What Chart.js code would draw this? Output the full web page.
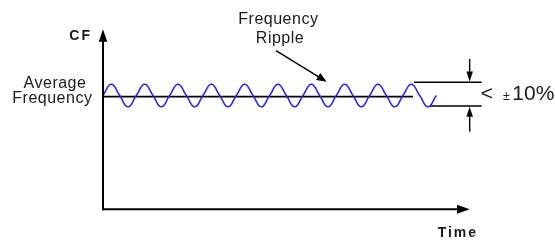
<!DOCTYPE html>
<html><head><meta charset="utf-8">
<script src="https://cdn.jsdelivr.net/npm/chart.js@4/dist/chart.umd.min.js"></script>
<style>html,body{margin:0;padding:0;background:#fff}#wrap{width:555px;height:244px;position:relative}</style>
</head><body><div id="wrap"><canvas id="c"></canvas></div>
<script>
// Time measured in ripple cycles from the vertical axis; frequency in % of the average (CF = 100)
const rippleTime = [0,0.25,0.5,0.75,1,1.25,1.5,1.75,2,2.25,2.5,2.75,3,3.25,3.5,3.75,4,4.25,4.5,4.75,5,
                    5.25,5.5,5.75,6,6.25,6.5,6.75,7,7.25,7.5,7.75,8,8.25,8.5,8.75,9,9.25,9.5,9.75,10];
const rippleFreq = [101,111,101,91,101,111,101,91,101,111,101,91,101,111,101,91,101,111,101,91,101,
                    111,101,91,101,111,101,91,101,111,101,91,101,111,101,91,101,111,101,91,101];
const averageTime = [0, 9.3];
const averageFreq = [100, 100];
const bandTopTime = [9.33, 11.36];     const bandTopFreq = [112.8, 112.8];
const bandBottomTime = [9.81, 11.36];  const bandBottomFreq = [91.7, 91.7];
const axisTimeEnd = 11;   // tip of time axis arrow
const axisFreqEnd = 160;  // tip of CF axis arrow
const limitTime = 11;                 // position of the ±10% marker arrows
const limitDownFrom = 133.5, limitUpFrom = 68.9;
const pointerFrom = [5.19, 140.9], pointerTo = [6.71, 113.3];

const pts = (xs, ys) => xs.map((x, i) => ({x, y: ys[i]}));

const FONT = '"Liberation Sans", Arial, sans-serif';
const labels = [
  {text:'CF', t:-1.011, f:149.9, font:'bold 14px '+FONT, align:'left', ls:'2px'},
  {text:'Time', t:10.04, f:-24.8, font:'bold 14px '+FONT, align:'left', ls:'2px'},
  {text:'Average', t:-1.44, f:107.5, font:'16px '+FONT, align:'center', ls:'0.5px'},
  {text:'Frequency', t:-1.52, f:94.1, font:'16px '+FONT, align:'center', ls:'0.5px'},
  {text:'Frequency', t:5.26, f:164.3, font:'16px '+FONT, align:'center', ls:'0.5px'},
  {text:'Ripple', t:5.31, f:147.4, font:'16px '+FONT, align:'center', ls:'0.5px'},
  {text:'<', t:11.33, f:97.0, font:'21px '+FONT, align:'left', ls:'0px'},
  {text:'±', t:12.0, f:97.0, font:'12px '+FONT, align:'left', ls:'0px'},
  {text:'10%', t:12.28, f:97.0, font:'21px '+FONT, align:'left', ls:'0px'}
];

function arrow(ctx, x0, y0, x1, y1, len, wid) {
  const a = Math.atan2(y1 - y0, x1 - x0), c = Math.cos(a), s = Math.sin(a);
  ctx.beginPath(); ctx.moveTo(x0, y0); ctx.lineTo(x1 - c * len * 0.7, y1 - s * len * 0.7); ctx.stroke();
  ctx.beginPath(); ctx.moveTo(x1, y1);
  ctx.lineTo(x1 - c * len - s * wid / 2, y1 - s * len + c * wid / 2);
  ctx.lineTo(x1 - c * len + s * wid / 2, y1 - s * len - c * wid / 2);
  ctx.closePath(); ctx.fill();
}

const decor = {
  id: 'decor',
  afterDatasetsDraw(chart) {
    const ctx = chart.ctx, X = chart.scales.x, Y = chart.scales.y;
    const px = t => X.getPixelForValue(t), py = f => Y.getPixelForValue(f);
    ctx.save();
    ctx.strokeStyle = '#000'; ctx.fillStyle = '#000'; ctx.lineCap = 'butt';
    ctx.lineWidth = 2;
    arrow(ctx, px(0), py(0) + 1, px(0), py(axisFreqEnd), 12.7, 8.5);
    arrow(ctx, px(0) - 1, py(0), px(axisTimeEnd), py(0), 12.6, 9);
    ctx.lineWidth = 1.4;
    arrow(ctx, px(pointerFrom[0]), py(pointerFrom[1]), px(pointerTo[0]), py(pointerTo[1]), 10, 8);
    arrow(ctx, px(limitTime), py(limitDownFrom), px(limitTime), py(bandTopFreq[0]) - 0.8, 10, 6.5);
    arrow(ctx, px(limitTime), py(limitUpFrom), px(limitTime), py(bandBottomFreq[0]) + 0.8, 10, 6.5);
    ctx.fillStyle = '#1a1a1a'; ctx.textBaseline = 'alphabetic';
    labels.forEach(l => {
      ctx.font = l.font; ctx.textAlign = l.align; ctx.letterSpacing = l.ls;
      ctx.fillText(l.text, px(l.t), py(l.f));
    });
    ctx.restore();
  }
};

new Chart(document.getElementById('c'), {
  type: 'line',
  data: {
    datasets: [
      {data: pts(rippleTime, rippleFreq), borderColor: '#2424ee', borderWidth: 1.5, tension: 0.5, pointRadius: 0},
      {data: pts(averageTime, averageFreq), borderColor: '#000', borderWidth: 1.6, pointRadius: 0},
      {data: pts(bandTopTime, bandTopFreq), borderColor: '#000', borderWidth: 1.6, pointRadius: 0},
      {data: pts(bandBottomTime, bandBottomFreq), borderColor: '#000', borderWidth: 1.6, pointRadius: 0}
    ]
  },
  options: {
    responsive: true, maintainAspectRatio: false, animation: false,
    layout: {padding: 0},
    plugins: {legend: {display: false}, tooltip: {enabled: false}},
    events: [],
    scales: {
      x: {type: 'linear', min: -3.09, max: 13.56, display: false},
      y: {type: 'linear', min: -30.9, max: 185.88, display: false}
    }
  },
  plugins: [decor]
});
</script></body></html>
